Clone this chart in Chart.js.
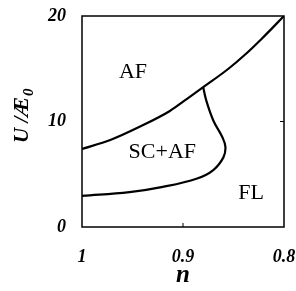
<!DOCTYPE html>
<html>
<head>
<meta charset="utf-8">
<script src="https://cdn.jsdelivr.net/npm/chart.js@4/dist/chart.umd.min.js"></script>
<style>
  html, body { margin: 0; padding: 0; background: #fff; }
  #wrap { width: 296px; height: 291px; }
</style>
</head>
<body>
<div id="wrap"><canvas id="phaseChart" width="296" height="291"></canvas></div>
<script>
// Phase boundaries: [n, U/E0]
const upperBoundary = [
  [1.000, 7.4], [0.972, 8.25], [0.943, 9.5], [0.913, 11.0], [0.896, 12.15],
  [0.880, 13.25], [0.855, 15.0], [0.839, 16.3], [0.822, 17.85], [0.800, 20.0]
];
const scAfBoundary = [
  [0.880, 13.25], [0.877, 12.0], [0.870, 10.1], [0.861, 8.5], [0.858, 7.6],
  [0.860, 6.6], [0.870, 5.4], [0.886, 4.6], [0.920, 3.8], [0.953, 3.3], [1.000, 2.95]
];

// Region names and where they sit (n, U/E0)
const regionNames = ['AF', 'SC+AF', 'FL'];
const regionSpots = [[0.9495, 14.7], [0.9205, 7.1], [0.8325, 3.2]];

// Axis ticks
const xTicks = [1, 0.9, 0.8];
const xTickLabels = ['1', '0.9', '0.8'];
const yTicks = [0, 10, 20];
const yTickLabels = ['0', '10', '20'];

const toPoints = arr => arr.map(p => ({ x: p[0], y: p[1] }));

// frame, inward tick marks, region labels and the y axis label
const decorations = {
  id: 'decorations',
  afterDatasetsDraw(chart) {
    const { ctx, chartArea: a, scales: { x, y } } = chart;
    ctx.save();
    ctx.strokeStyle = '#000';
    ctx.lineWidth = 1.5;
    ctx.strokeRect(a.left, a.top, a.right - a.left, a.bottom - a.top);

    // small inward ticks
    ctx.lineWidth = 1;
    ctx.beginPath();
    const xm = x.getPixelForValue(xTicks[1]);
    ctx.moveTo(xm, a.bottom); ctx.lineTo(xm, a.bottom - 4);
    const ym = y.getPixelForValue(yTicks[1]);
    ctx.moveTo(a.right, ym); ctx.lineTo(a.right - 4, ym);
    ctx.stroke();

    ctx.fillStyle = '#000';
    ctx.font = '22px "Liberation Serif", serif';
    ctx.textAlign = 'center';
    ctx.textBaseline = 'middle';
    regionNames.forEach((name, i) => {
      ctx.fillText(name, x.getPixelForValue(regionSpots[i][0]), y.getPixelForValue(regionSpots[i][1]));
    });

    // rotated y label with subscript
    ctx.translate(28, 143);
    ctx.rotate(-Math.PI / 2);
    ctx.textAlign = 'left';
    ctx.textBaseline = 'alphabetic';
    ctx.font = 'italic bold 21px "Liberation Serif", serif';
    const main = 'U /Æ';
    ctx.fillText(main, 0, 0);
    const w = ctx.measureText(main).width;
    ctx.font = 'italic bold 15px "Liberation Serif", serif';
    ctx.fillText('0', w + 1, 5);
    ctx.restore();
  }
};

const tickFont = { family: '"Liberation Serif", serif', size: 18, style: 'italic', weight: 'bold' };

new Chart(document.getElementById('phaseChart'), {
  type: 'scatter',
  data: {
    datasets: [
      { data: toPoints(upperBoundary), cubicInterpolationMode: 'monotone' },
      { data: toPoints(scAfBoundary), tension: 0.4 }
    ]
  },
  options: {
    responsive: false,
    animation: false,
    events: [],
    layout: { padding: { left: 0, top: 16, right: 12, bottom: 0 } },
    elements: {
      line: { borderColor: '#000', borderWidth: 2.2, fill: false },
      point: { radius: 0 }
    },
    datasets: { scatter: { showLine: true } },
    plugins: { legend: { display: false }, tooltip: { enabled: false } },
    scales: {
      x: {
        type: 'linear',
        reverse: true,
        min: 0.8,
        max: 1,
        grid: { display: false, drawTicks: false },
        border: { display: false },
        afterFit(scale) {
          scale.height = 64;
          scale.paddingLeft = 0;
          scale.paddingRight = 0;
        },
        afterBuildTicks(scale) { scale.ticks = xTicks.map(v => ({ value: v })); },
        ticks: {
          padding: 20,
          color: '#000',
          font: tickFont,
          callback: (v) => xTickLabels[xTicks.indexOf(v)]
        },
        title: {
          display: true,
          text: 'n',
          color: '#000',
          padding: { top: 0, bottom: 0 },
          font: { family: '"Liberation Serif", serif', size: 25, style: 'italic', weight: 'bold' }
        }
      },
      y: {
        type: 'linear',
        min: 0,
        max: 20,
        grid: { display: false, drawTicks: false },
        border: { display: false },
        afterFit(scale) {
          scale.width = 82;
          scale.paddingTop = 0;
          scale.paddingBottom = 0;
        },
        afterBuildTicks(scale) { scale.ticks = yTicks.map(v => ({ value: v })); },
        ticks: {
          padding: 16,
          color: '#000',
          font: tickFont,
          callback: (v) => yTickLabels[yTicks.indexOf(v)]
        }
      }
    }
  },
  plugins: [decorations]
});
</script>
</body>
</html>
